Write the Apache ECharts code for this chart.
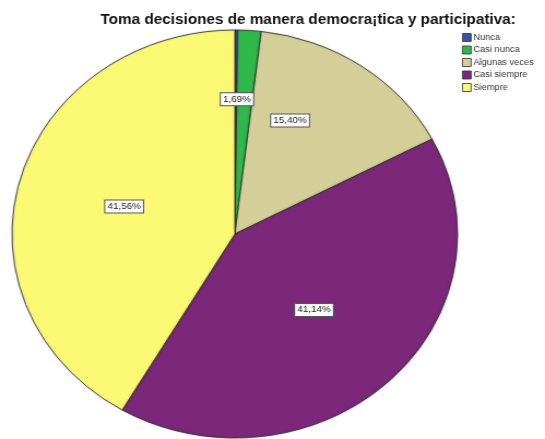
<!DOCTYPE html>
<html>
<head>
<meta charset="utf-8">
<script src="https://cdn.jsdelivr.net/npm/echarts@6/dist/echarts.min.js"></script>
<style>
  html, body { margin: 0; padding: 0; background: #fff; overflow: hidden; }
  /* SPSS draws the pie as a slightly wide ellipse, so stretch the chart horizontally */
  #chart { width: 499px; height: 439px; transform: scaleX(1.0922); transform-origin: 0 0; }
</style>
</head>
<body>
<div id="chart"></div>
<script>
const categories = ['Nunca', 'Casi nunca', 'Algunas veces', 'Casi siempre', 'Siempre']
const percents = [0.21, 1.69, 15.40, 41.14, 41.56]
const colors = ['#3b52a8', '#2fb84a', '#d4cf98', '#7b287b', '#fbf874']
const shownLabels = [false, true, true, true, true]
// SPSS nudges the labels of the small slices outward a bit
const labelShift = [[0, 0], [-5, -30], [-9, -27], [0, 0], [0, 0]]

const chart = echarts.init(document.getElementById('chart'))
const font = 'Liberation Sans, Arial, sans-serif'

chart.setOption({
  animation: false,
  title: {
    text: 'Toma decisiones de manera democra¡tica y participativa:',
    left: 87,
    top: 8,
    textStyle: { fontFamily: font, fontSize: 14, fontWeight: 'bold', color: '#111' }
  },
  legend: {
    orient: 'vertical',
    left: 418,
    top: 28,
    itemWidth: 8,
    itemHeight: 8,
    itemGap: 3.5,
    icon: 'rect',
    itemStyle: { borderColor: '#333', borderWidth: 0.8 },
    textStyle: { fontFamily: font, fontSize: 8.5, color: '#333', padding: [0, 0, 0, -3] },
    data: categories
  },
  series: [{
    type: 'pie',
    center: [215, 234],
    radius: 204,
    startAngle: 90,
    clockwise: true,
    label: {
      position: 'inside',
      fontFamily: font,
      fontSize: 9,
      color: '#222',
      backgroundColor: '#fff',
      borderColor: '#555',
      borderWidth: 1,
      padding: [2, 2, 1, 2],
      formatter: p => p.value.toFixed(2).replace('.', ',') + '%'
    },
    labelLayout: p => ({ dx: labelShift[p.dataIndex][0], dy: labelShift[p.dataIndex][1] }),
    labelLine: { show: false },
    itemStyle: { borderColor: '#333', borderWidth: 0.8, shadowBlur: 2, shadowColor: 'rgba(0,0,0,0.25)' },
    emphasis: { disabled: true },
    data: categories.map((name, i) => ({
      name: name,
      value: percents[i],
      itemStyle: { color: colors[i] },
      label: { show: shownLabels[i] }
    }))
  }]
})
</script>
</body>
</html>
